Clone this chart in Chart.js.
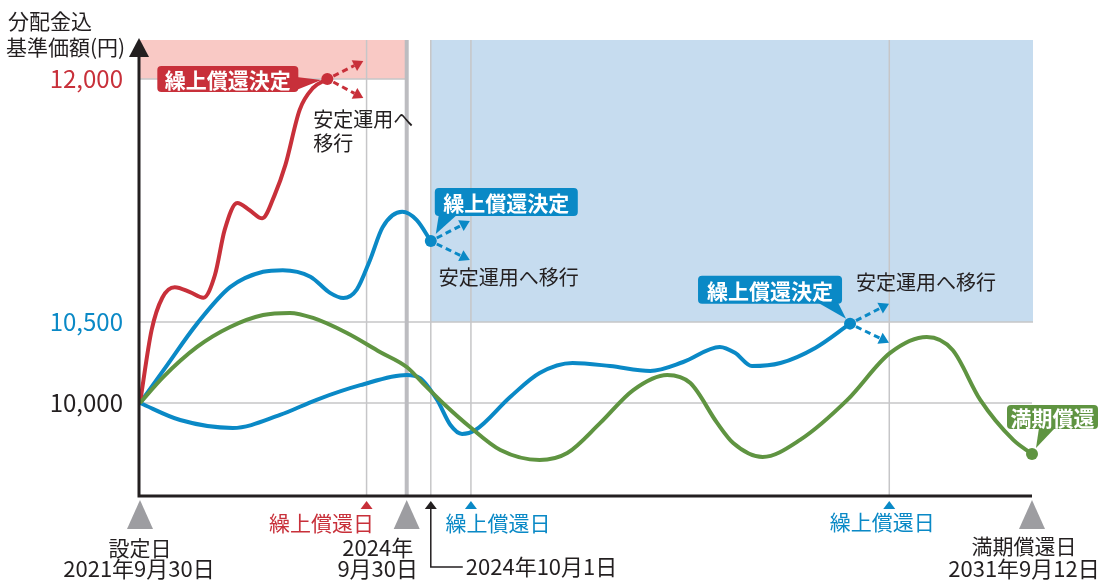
<!DOCTYPE html>
<html lang="ja">
<head>
<meta charset="utf-8">
<title>繰上償還のイメージ</title>
<script src="https://cdn.jsdelivr.net/npm/chart.js@4"></script>
<style>
  html, body { margin: 0; padding: 0; background: #fff; }
  canvas { display: block; }
</style>
</head>
<body>
<canvas id="chart" width="1102" height="582"></canvas>
<script>
// x: 設定日 = 0, 満期償還日 = 100 (illustrative time index)
// y: 分配金込基準価額 (円)

const yTicks = [10000, 10500, 12000];

const redX = [0, 1.3, 2.5, 3.9, 5.6, 7.1, 8.4, 9.5, 10.9, 12.3, 13.7, 15.1, 16.3, 17.9, 19.4, 21.0];
const redY = [10000, 10450, 10650, 10715, 10685, 10650, 10790, 11070, 11235, 11190, 11140, 11285, 11470, 11810, 11945, 12000];

const blueUpX = [0, 2.8, 6.4, 10.1, 13.8, 16.0, 19.1, 21.3, 22.8, 24.3, 25.8, 27.2, 29.4, 31.0, 32.6];
const blueUpY = [10000, 10215, 10490, 10715, 10810, 10820, 10780, 10680, 10648, 10700, 10885, 11085, 11180, 11130, 11000];

const blueLowX = [0, 4.5, 10.4, 15.7, 19.8, 24.7, 29.9, 31.4, 33.3, 34.8, 36.1, 37.6, 41.5, 44.8, 48.5, 52.7, 57.2, 60.9, 65.0, 66.7, 68.6, 71.8, 75.7, 79.6];
const blueLowY = [10000, 9895, 9846, 9926, 10020, 10110, 10173, 10154, 10020, 9864, 9809, 9833, 10037, 10185, 10247, 10228, 10198, 10253, 10346, 10310, 10228, 10247, 10340, 10490];

const greenX = [0, 2.6, 6.4, 10.1, 13.8, 16.8, 19.4, 23.2, 26.9, 29.9, 31.7, 34.2, 37.0, 40.4, 44.8, 47.9, 51.6, 55.3, 59.1, 61.7, 64.7, 66.5, 69.8, 74.0, 79.3, 84.1, 88.2, 91.1, 94.2, 97.9, 100];
const greenY = [10000, 10160, 10346, 10469, 10543, 10556, 10525, 10432, 10315, 10222, 10123, 9988, 9852, 9710, 9648, 9691, 9877, 10080, 10173, 10123, 9877, 9753, 9667, 9772, 10019, 10309, 10407, 10327, 10019, 9772, 9685];

// event dates on the time index
const dayRedRedeem = 25.4;   // 繰上償還日 (赤)
const dayBase = 29.9;        // 2024年9月30日
const daySwitch = 32.6;      // 2024年10月1日
const dayBlueRedeem1 = 37.1; // 繰上償還日 (青)
const dayBlueRedeem2 = 84.0; // 繰上償還日 (青)
const dayMaturity = 100;     // 満期償還日

const RED = "#c8303a";
const BLUE = "#0a89c6";
const GREEN = "#5f9441";
const INK = "#231f20";
const GRID = "#c6c6c8";
const FONT = '"Noto Sans CJK JP", "Noto Sans", sans-serif';

const pts = (xs, ys) => xs.map((x, i) => ({ x, y: ys[i] }));
const lastDot = n => ctx => (ctx.dataIndex === n - 1 ? 6 : 0);

function line(label, xs, ys, color) {
  return {
    label,
    data: pts(xs, ys),
    borderColor: color,
    backgroundColor: color,
    borderWidth: 4,
    pointRadius: lastDot(xs.length),
    pointBorderWidth: 0,
    pointHoverRadius: 0,
    cubicInterpolationMode: "monotone",
    fill: false,
    clip: false,
  };
}

// ---------- drawing helpers ----------

function arrow(c, x1, y1, x2, y2, color) {
  const a = Math.atan2(y2 - y1, x2 - x1);
  const hx = x2 - 10 * Math.cos(a), hy = y2 - 10 * Math.sin(a);
  c.save();
  c.strokeStyle = color;
  c.fillStyle = color;
  c.lineWidth = 3;
  c.setLineDash([6, 4]);
  c.beginPath(); c.moveTo(x1, y1); c.lineTo(hx, hy); c.stroke();
  c.setLineDash([]);
  c.beginPath();
  c.moveTo(x2, y2);
  c.lineTo(hx + 6 * Math.sin(a), hy - 6 * Math.cos(a));
  c.lineTo(hx - 6 * Math.sin(a), hy + 6 * Math.cos(a));
  c.closePath(); c.fill();
  c.restore();
}

function callout(c, x, y, w, h, tri, color, text) {
  c.save();
  c.fillStyle = color;
  c.beginPath();
  c.roundRect(x, y, w, h, 4);
  c.fill();
  c.beginPath();
  c.moveTo(tri[0], tri[1]); c.lineTo(tri[2], tri[3]); c.lineTo(tri[4], tri[5]);
  c.closePath(); c.fill();
  c.fillStyle = "#fff";
  c.font = "bold 21px " + FONT;
  c.textAlign = "center";
  c.textBaseline = "middle";
  c.fillText(text, x + w / 2, y + h / 2 + 1);
  c.restore();
}

function text(c, s, x, y, color, align, size) {
  c.save();
  c.fillStyle = color;
  c.font = (size || 20) + "px " + FONT;
  c.textAlign = align || "left";
  c.textBaseline = "middle";
  c.fillText(s, x, y);
  c.restore();
}

function tri(c, x, yTop, half, h, color) {
  c.save();
  c.fillStyle = color;
  c.beginPath();
  c.moveTo(x, yTop); c.lineTo(x + half, yTop + h); c.lineTo(x - half, yTop + h);
  c.closePath(); c.fill();
  c.restore();
}

const decor = {
  id: "decor",
  beforeDatasetsDraw(chart) {
    const c = chart.ctx, a = chart.chartArea;
    const X = v => chart.scales.x.getPixelForValue(v);
    const Y = v => chart.scales.y.getPixelForValue(v);
    c.save();
    // bands
    c.fillStyle = "#f9c9c5";
    c.fillRect(X(0), a.top, X(dayBase) - X(0), Y(12000) - a.top);
    c.fillStyle = "#c6dcef";
    c.fillRect(X(daySwitch), a.top, X(dayMaturity) + 1 - X(daySwitch), Y(10500) - a.top);
    // grid
    c.strokeStyle = GRID;
    c.lineWidth = 1.5;
    c.beginPath();
    c.moveTo(X(0), Y(12000)); c.lineTo(X(dayBase), Y(12000));
    c.moveTo(X(0), Y(10500)); c.lineTo(X(dayMaturity) + 1, Y(10500));
    c.moveTo(X(0), Y(10000)); c.lineTo(X(dayMaturity), Y(10000));
    for (const d of [dayRedRedeem, daySwitch, dayBlueRedeem1, dayBlueRedeem2]) {
      c.moveTo(X(d), a.top); c.lineTo(X(d), a.bottom);
    }
    c.stroke();
    c.strokeStyle = "#bcbcc0";
    c.lineWidth = 4;
    c.beginPath();
    c.moveTo(X(dayBase), a.top); c.lineTo(X(dayBase), a.bottom);
    c.stroke();
    c.restore();
  },
  afterDatasetsDraw(chart) {
    const c = chart.ctx, a = chart.chartArea;
    const X = v => chart.scales.x.getPixelForValue(v);
    const Y = v => chart.scales.y.getPixelForValue(v);

    // axes
    c.save();
    c.strokeStyle = INK;
    c.lineWidth = 3;
    c.beginPath();
    c.moveTo(X(0) - 1, a.top + 12); c.lineTo(X(0) - 1, a.bottom + 1);
    c.lineTo(X(dayMaturity), a.bottom + 1);
    c.stroke();
    c.restore();
    tri(c, X(0) - 1, a.top - 2, 10, 19, INK);

    // y axis title
    text(c, "分配金込", 8, 21, INK, "left", 21);
    text(c, "基準価額(円)", 6, 47, INK, "left", 21);

    // red: 繰上償還決定
    const r = { x: X(redX[redX.length - 1]), y: Y(redY[redY.length - 1]) };
    arrow(c, r.x + 6, r.y - 3, r.x + 36, r.y - 18, RED);
    arrow(c, r.x + 6, r.y + 3, r.x + 36, r.y + 19, RED);
    callout(c, r.x - 170, r.y - 13, 141, 26, [r.x - 31, r.y - 2, r.x - 31, r.y + 11, r.x - 6, r.y + 1], RED, "繰上償還決定");
    text(c, "安定運用へ", r.x - 14, r.y + 40, INK);
    text(c, "移行", r.x - 14, r.y + 64, INK);

    // blue upper: 繰上償還決定
    const b1 = { x: X(blueUpX[blueUpX.length - 1]), y: Y(blueUpY[blueUpY.length - 1]) };
    arrow(c, b1.x + 6, b1.y - 3, b1.x + 39, b1.y - 20, BLUE);
    arrow(c, b1.x + 6, b1.y + 3, b1.x + 39, b1.y + 19, BLUE);
    callout(c, b1.x + 4, b1.y - 53, 143, 28, [b1.x + 8, b1.y - 26, b1.x + 26, b1.y - 26, b1.x + 5, b1.y - 7], BLUE, "繰上償還決定");
    text(c, "安定運用へ移行", b1.x + 8, b1.y + 36, INK);

    // blue lower: 繰上償還決定
    const b2 = { x: X(blueLowX[blueLowX.length - 1]), y: Y(blueLowY[blueLowY.length - 1]) };
    arrow(c, b2.x + 6, b2.y - 3, b2.x + 39, b2.y - 20, BLUE);
    arrow(c, b2.x + 6, b2.y + 3, b2.x + 39, b2.y + 19, BLUE);
    callout(c, b2.x - 152, b2.y - 48, 144, 28, [b2.x - 32, b2.y - 21, b2.x - 12, b2.y - 21, b2.x - 4, b2.y - 5], BLUE, "繰上償還決定");
    text(c, "安定運用へ移行", b2.x + 6, b2.y - 41, INK);

    // green: 満期償還
    const g = { x: X(greenX[greenX.length - 1]), y: Y(greenY[greenY.length - 1]) };
    callout(c, g.x - 25, g.y - 49, 91, 24, [g.x + 7, g.y - 26, g.x + 23, g.y - 26, g.x + 4, g.y - 6], GREEN, "満期償還");

    // bottom markers
    const mt = a.bottom + 5;
    tri(c, X(0), mt, 13, 29, "#9d9da1");
    tri(c, X(dayBase), mt, 13, 29, "#9d9da1");
    tri(c, X(dayMaturity), mt, 13, 29, "#9d9da1");
    tri(c, X(dayRedRedeem), mt + 1, 6, 8, RED);
    tri(c, X(dayBlueRedeem1), mt + 1, 6, 8, BLUE);
    tri(c, X(dayBlueRedeem2), mt + 1, 6, 8, BLUE);
    tri(c, X(daySwitch), mt + 1, 6, 8, INK);
    c.save();
    c.strokeStyle = INK;
    c.lineWidth = 1.5;
    c.beginPath();
    c.moveTo(X(daySwitch), mt + 8); c.lineTo(X(daySwitch), a.bottom + 72);
    c.lineTo(X(daySwitch) + 32, a.bottom + 72);
    c.stroke();
    c.restore();

    const t1 = a.bottom + 28, t2 = a.bottom + 53, t3 = a.bottom + 74;
    text(c, "設定日", X(0), t2, INK, "center", 21);
    text(c, "2021年9月30日", X(0) - 1, t3, INK, "center", 22);
    text(c, "繰上償還日", X(dayRedRedeem) - 45, t1, RED, "center", 21);
    text(c, "2024年", X(dayBase) - 29, t2, INK, "center", 22);
    text(c, "9月30日", X(dayBase) - 29, t3, INK, "center", 22);
    text(c, "繰上償還日", X(dayBlueRedeem1) + 27, t1, BLUE, "center", 21);
    text(c, "2024年10月1日", X(daySwitch) + 35, a.bottom + 72, INK, "left", 22);
    text(c, "繰上償還日", X(dayBlueRedeem2) - 7, t1 - 1, BLUE, "center", 21);
    text(c, "満期償還日", X(dayMaturity) - 8, t2 - 2, INK, "center", 21);
    text(c, "2031年9月12日", X(dayMaturity) - 8, t3, INK, "center", 22);
  },
};

new Chart(document.getElementById("chart"), {
  type: "line",
  data: {
    datasets: [
      line("緑", greenX, greenY, GREEN),
      line("赤", redX, redY, RED),
      line("青(上)", blueUpX, blueUpY, BLUE),
      line("青(下)", blueLowX, blueLowY, BLUE),
    ],
  },
  options: {
    responsive: false,
    animation: false,
    layout: { padding: { left: 0, right: 70, top: 40, bottom: 87 } },
    plugins: { legend: { display: false }, tooltip: { enabled: false } },
    scales: {
      x: { type: "linear", min: 0, max: 100, display: false },
      y: {
        type: "linear",
        min: 9432,
        max: 12241,
        afterFit(s) { s.width = 140; },
        afterBuildTicks(s) { s.ticks = yTicks.map(v => ({ value: v })); },
        grid: { display: false, drawTicks: false },
        border: { display: false },
        ticks: {
          padding: 17,
          font: { size: 24, family: FONT },
          color: c => (c.tick.value === 12000 ? RED : c.tick.value === 10500 ? BLUE : INK),
          callback: v => v.toLocaleString("en-US"),
        },
      },
    },
  },
  plugins: [decor],
});
</script>
</body>
</html>
